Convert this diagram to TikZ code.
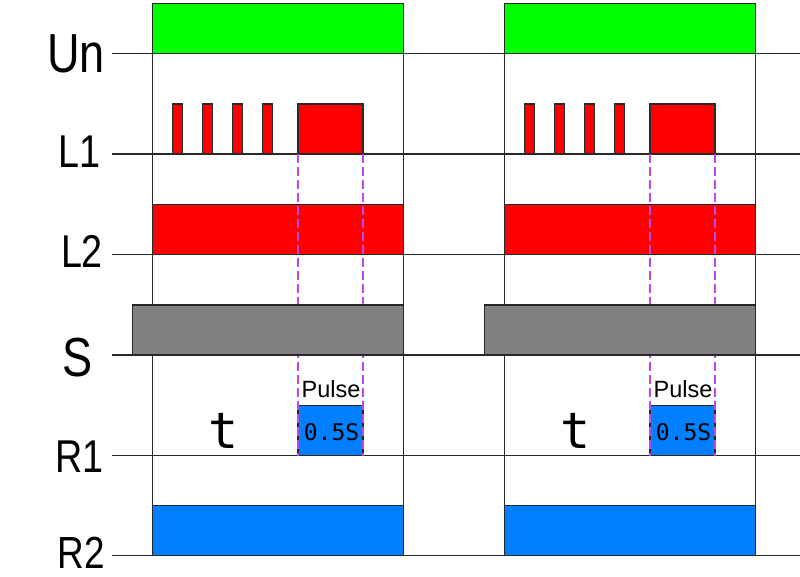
\documentclass[tikz,border=0pt]{standalone}
\usepackage{fontspec}
\setmainfont{Liberation Sans}
\newfontfamily\monof{DejaVu Sans Mono}
\definecolor{ggreen}{RGB}{0,255,0}
\definecolor{rred}{RGB}{255,0,0}
\definecolor{bblue}{RGB}{0,128,255}
\definecolor{ggray}{RGB}{128,128,128}
\definecolor{ppurple}{RGB}{190,70,240}
\definecolor{lline}{RGB}{40,40,40}
\tikzset{
  axisline/.style={draw=lline, line width=1.1pt},
  sigbox/.style={draw=lline, line width=1.1pt},
  guide/.style={draw=ppurple, line width=1.1pt, dash pattern=on 9pt off 4pt},
  rowlabel/.style={anchor=base, inner sep=0pt, text depth=0pt},
  smalltext/.style={anchor=base, inner sep=0pt}
}
\newcommand{\biglab}[2]{\fontsize{#1}{#1}\selectfont\scalebox{0.82}[1]{#2}}
\begin{document}
\begin{tikzpicture}[x=1pt,y=-1pt]
\useasboundingbox (0,0) rectangle (800,577);
% row baselines
\foreach \yy in {53.5,154,254.5,355,455.5,555.5}
  \draw[axisline] (112,\yy) -- (800,\yy);
\foreach \o in {0,352}{
  % frame verticals
  \draw[axisline] ({152.3+\o},3.3) -- ({152.3+\o},555.5);
  \draw[axisline] ({403.5+\o},3.3) -- ({403.5+\o},555.5);
  % Un
  \draw[sigbox, fill=ggreen] ({152.3+\o},3.3) rectangle ({403.5+\o},53.5);
  % L1 pulses
  \foreach \p in {172.5,202.5,232.5,262.5}
    \draw[sigbox, fill=rred] ({\p+\o},104) rectangle ({\p+10+\o},154);
  \draw[sigbox, fill=rred] ({298+\o},104) rectangle ({363+\o},154);
  % L2
  \draw[sigbox, fill=rred] ({152.3+\o},204.5) rectangle ({403.5+\o},254.5);
  % R1 pulse
  \draw[sigbox, fill=bblue] ({298+\o},405.5) rectangle ({363+\o},455.5);
  % guides
  \draw[guide] ({298+\o},154) -- ({298+\o},455.5);
  \draw[guide] ({363+\o},154) -- ({363+\o},455.5);
  % S
  \draw[sigbox, fill=ggray] ({132.3+\o},305) rectangle ({403.5+\o},355);
  % R2
  \draw[sigbox, fill=bblue] ({152.3+\o},505.5) rectangle ({403.5+\o},555.5);
  % texts
  \node[smalltext] (pulse\o) at ({331+\o},397) {\fontsize{23.5}{23.5}\selectfont Pulse};
  \node[smalltext] (dur\o) at ({331.5+\o},440) {\monof\fontsize{23}{23}\selectfont 0.5S};
  \node[smalltext] (t\o) at ({224+\o},448) {\monof\fontsize{50}{50}\selectfont t};
}
% row labels
\node[rowlabel] (lUn) at (76,73) {\biglab{55}{Un}};
\node[rowlabel] (lL1) at (79.5,168) {\biglab{46}{L1}};
\node[rowlabel] (lL2) at (82,268) {\biglab{46}{L2}};
\node[rowlabel] (lS) at (77.5,376) {\biglab{55}{S}};
\node[rowlabel] (lR1) at (79.5,472) {\biglab{46}{R1}};
\node[rowlabel] (lR2) at (81.5,568) {\biglab{45}{R2}};
\end{tikzpicture}
\end{document}
